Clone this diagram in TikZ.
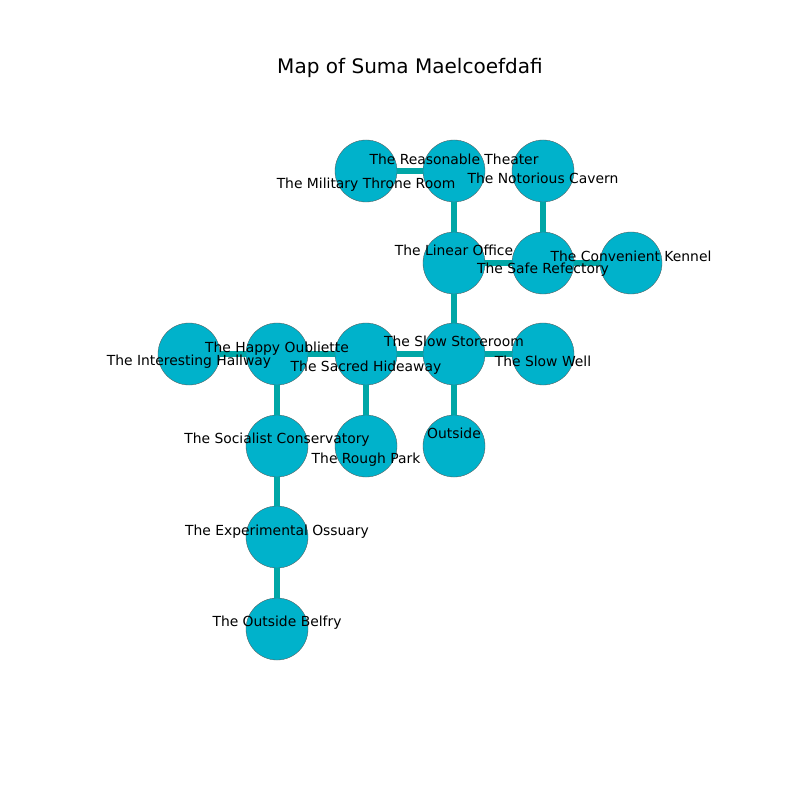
\documentclass[tikz,border=0pt]{standalone}
\usepackage{fontspec}
\setmainfont{DejaVu Sans}
\usetikzlibrary{positioning}

\definecolor{roomfill}{HTML}{00B2CB}
\definecolor{passage}{HTML}{00A7A7}

\tikzset{
  room/.style={circle, fill=roomfill, draw=gray!70!black, line width=0.2pt, minimum size=35.3pt, inner sep=0pt},
  passage/.style={draw=passage, line width=2.9pt},
  tag/.style={font=\fontsize{7.9pt}{9pt}\selectfont, inner sep=0pt, yshift=-1.5*0.02cm}
}

\begin{document}
\begin{tikzpicture}[x=0.02cm, y=-0.02cm]
  \useasboundingbox (0,0) rectangle (800,800);
  \node[font=\fontsize{11.4pt}{13pt}\selectfont] (title) at (410,68) {Map of Suma Maelcoefdafi};

  % rooms
  \node[room] (military) at (366,171) {};
  \node[room] (theater) at (454,171) {};
  \node[room] (cavern) at (543,171) {};
  \node[room] (office) at (454,263) {};
  \node[room] (refectory) at (543,263) {};
  \node[room] (kennel) at (631,263) {};
  \node[room] (hallway) at (189,354) {};
  \node[room] (oubliette) at (277,354) {};
  \node[room] (hideaway) at (366,354) {};
  \node[room] (storeroom) at (454,354) {};
  \node[room] (well) at (543,354) {};
  \node[room] (conservatory) at (277,446) {};
  \node[room] (park) at (366,446) {};
  \node[room] (outside) at (454,446) {};
  \node[room] (ossuary) at (277,537) {};
  \node[room] (belfry) at (277,629) {};

  % passages
  \draw[passage] (military) -- (theater);
  \draw[passage] (theater) -- (office);
  \draw[passage] (cavern) -- (refectory);
  \draw[passage] (office) -- (refectory);
  \draw[passage] (refectory) -- (kennel);
  \draw[passage] (office) -- (storeroom);
  \draw[passage] (storeroom) -- (well);
  \draw[passage] (hideaway) -- (storeroom);
  \draw[passage] (storeroom) -- (outside);
  \draw[passage] (oubliette) -- (hideaway);
  \draw[passage] (hallway) -- (oubliette);
  \draw[passage] (hideaway) -- (park);
  \draw[passage] (oubliette) -- (conservatory);
  \draw[passage] (conservatory) -- (ossuary);
  \draw[passage] (ossuary) -- (belfry);

  % labels
  \node[tag] (militaryL) at (366,183) {The Military Throne Room};
  \node[tag] (theaterL) at (454,158) {The Reasonable Theater};
  \node[tag] (cavernL) at (543,177) {The Notorious Cavern};
  \node[tag] (officeL) at (454,249) {The Linear Office};
  \node[tag] (refectoryL) at (543,268) {The Safe Refectory};
  \node[tag] (kennelL) at (631,255) {The Convenient Kennel};
  \node[tag] (hallwayL) at (189,360) {The Interesting Hallway};
  \node[tag] (oublietteL) at (277,347) {The Happy Oubliette};
  \node[tag] (hideawayL) at (366,366) {The Sacred Hideaway};
  \node[tag] (storeroomL) at (454,340) {The Slow Storeroom};
  \node[tag] (wellL) at (543,360) {The Slow Well};
  \node[tag] (conservatoryL) at (277,438) {The Socialist Conservatory};
  \node[tag] (parkL) at (366,458) {The Rough Park};
  \node[tag] (outsideL) at (454,432) {Outside};
  \node[tag] (ossuaryL) at (277,530) {The Experimental Ossuary};
  \node[tag] (belfryL) at (277,621) {The Outside Belfry};
\end{tikzpicture}
\end{document}
